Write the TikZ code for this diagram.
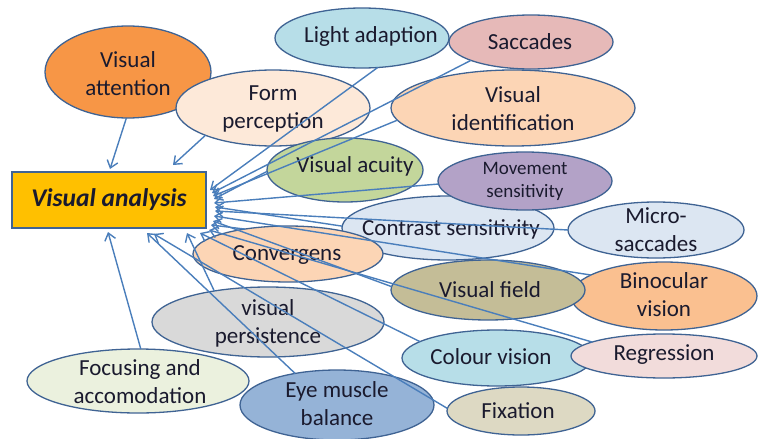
\documentclass[tikz,border=0pt]{standalone}
\usepackage{fontspec}
\setmainfont{Carlito}
\usetikzlibrary{arrows.meta,shapes.geometric}
\definecolor{olc}{HTML}{3F6393}
\definecolor{arc}{HTML}{4A7EBB}
\definecolor{txt}{HTML}{1A1A2E}
\definecolor{cAtt}{HTML}{F79646}
\definecolor{cLight}{HTML}{B7DEE8}
\definecolor{cSacc}{HTML}{E6B9B8}
\definecolor{cForm}{HTML}{FDE9D9}
\definecolor{cIdent}{HTML}{FCD5B5}
\definecolor{cAcu}{HTML}{C3D69B}
\definecolor{cMove}{HTML}{B3A2C7}
\definecolor{cCont}{HTML}{DCE6F2}
\definecolor{cField}{HTML}{C4BD97}
\definecolor{cBino}{HTML}{FAC090}
\definecolor{cPers}{HTML}{D9D9D9}
\definecolor{cReg}{HTML}{F2DCDB}
\definecolor{cFoc}{HTML}{EBF1DE}
\definecolor{cEye}{HTML}{95B3D7}
\definecolor{cFix}{HTML}{DDD9C3}
\definecolor{cBox}{HTML}{FFC000}
\begin{document}
\begin{tikzpicture}[x=1pt,y=-1pt,
  el/.style={ellipse, draw=olc, line width=1.3pt, inner sep=0pt, outer sep=0pt},
  lbl/.style={align=center, font=\fontsize{23}{28}\selectfont, text=txt, inner sep=0pt},
  small/.style={align=center, font=\fontsize{19}{23}\selectfont, text=txt, inner sep=0pt},
  arr/.style={draw=arc, line width=1.4pt, -{Straight Barb[length=7pt,width=11pt]}}]
\useasboundingbox (0,0) rectangle (758,439);
% ellipses
\node[el, fill=cAtt, minimum width=166pt, minimum height=92pt] (att) at (128,72) {};
\node[lbl] (att-t) at (128,74) {Visual\\attention};
\node[el, fill=cForm, minimum width=194pt, minimum height=76pt] (form) at (273,108) {};
\node[lbl] (form-t) at (273,109) {Form\\perception};
\node[el, fill=cLight, minimum width=174pt, minimum height=60pt] (light) at (362,38) {};
\node[lbl] (light-t) at (371,36) {Light adaption};
\node[el, fill=cSacc, minimum width=164pt, minimum height=54pt] (sacc) at (531,42) {};
\node[lbl] (sacc-t) at (530,42) {Saccades};
\node[el, fill=cIdent, minimum width=244pt, minimum height=76pt] (ident) at (513,108) {};
\node[lbl] (ident-t) at (513,109) {Visual\\identification};
\node[el, fill=cAcu, minimum width=156pt, minimum height=64pt] (acu) at (345,170) {};
\node[lbl] (acu-t) at (355,166) {Visual acuity};
\node[el, fill=cCont, minimum width=212pt, minimum height=64pt] (cont) at (448,228) {};
\node[lbl] (cont-t) at (451,229) {Contrast sensitivity};
\node[el, fill=cMove, minimum width=174pt, minimum height=58pt] (move) at (525,181) {};
\node[small] (move-t) at (525,181) {Movement\\sensitivity};
\node[el, fill=cCont, minimum width=176pt, minimum height=56pt] (micro) at (656,230) {};
\node[lbl] (micro-t) at (656,230) {Micro-\\saccades};
\node[el, fill=cIdent, minimum width=190pt, minimum height=56pt] (conv) at (288,254) {};
\node[lbl] (conv-t) at (287,255) {Convergens};
\node[el, fill=cBino, minimum width=186pt, minimum height=68pt] (bino) at (664,296) {};
\node[lbl] (bino-t) at (664,295) {Binocular\\vision};
\node[el, fill=cField, minimum width=194pt, minimum height=60pt] (field) at (488,290) {};
\node[lbl] (field-t) at (490,290) {Visual field};
\node[el, fill=cPers, minimum width=232pt, minimum height=70pt] (pers) at (268,322) {};
\node[lbl] (pers-t) at (268,323) {visual\\persistence};
\node[el, fill=cFoc, minimum width=222pt, minimum height=64pt] (foc) at (138,381) {};
\node[lbl] (foc-t) at (140,382) {Focusing and\\accomodation};
\node[el, fill=cEye, minimum width=194pt, minimum height=70pt] (eye) at (337,405) {};
\node[lbl] (eye-t) at (337,404) {Eye muscle\\balance};
\node[el, fill=cLight, minimum width=190pt, minimum height=56pt] (col) at (497,358) {};
\node[lbl] (col-t) at (491,357) {Colour vision};
\node[el, fill=cReg, minimum width=186pt, minimum height=44pt] (reg) at (664,356) {};
\node[lbl] (reg-t) at (664,355) {Regression};
\node[el, fill=cFix, minimum width=148pt, minimum height=48pt] (fix) at (521,411) {};
\node[lbl] (fix-t) at (518,411) {Fixation};
% central box
\node[draw=olc, line width=1.5pt, fill=cBox, minimum width=194pt, minimum height=56pt, inner sep=0pt,
  font=\fontsize{25.5}{28}\selectfont\bfseries\itshape, text=txt] (va) at (109,200) {Visual analysis};
% arrow tips
\coordinate (t1) at (110,169);
\coordinate (t2) at (173,165);
\coordinate (t3) at (210,190);
\coordinate (t4) at (212,193);
\coordinate (t5) at (213,196);
\coordinate (t6) at (214,199);
\coordinate (t7) at (214,203);
\coordinate (t8) at (215,207);
\coordinate (t9) at (215,211);
\coordinate (t10) at (214,216);
\coordinate (t11) at (213,221);
\coordinate (t12) at (211,225);
\coordinate (t13) at (187,233);
\coordinate (t14) at (209,230);
\coordinate (t15) at (200,233);
\coordinate (t16) at (108,232);
\coordinate (t17) at (147,233);
\coordinate (t18) at (154,234);
% arrows
\draw[arr] (att.268) -- (t1);
\draw[arr] (form.202) -- (t2);
\draw[arr] (light.298) -- (t3);
\draw[arr] (sacc.197) -- (t4);
\draw[arr] (ident.186) -- (t5);
\draw[arr] (acu.181) -- (t6);
\draw[arr] (move.182) -- (t7);
\draw[arr] (cont.179) -- (t8);
\draw[arr] (micro.180) -- (t9);
\draw[arr] (bino.164) -- (t10);
\draw[arr] (field.178) -- (t11);
\draw[arr] (conv.150) -- (t12);
\draw[arr] (pers.150) -- (t13);
\draw[arr] (reg.169) -- (t14);
\draw[arr] (col.168) -- (t15);
\draw[arr] (foc.85) -- (t16);
\draw[arr] (eye.143) -- (t17);
\draw[arr] (fix.178) -- (t18);
\end{tikzpicture}
\end{document}
